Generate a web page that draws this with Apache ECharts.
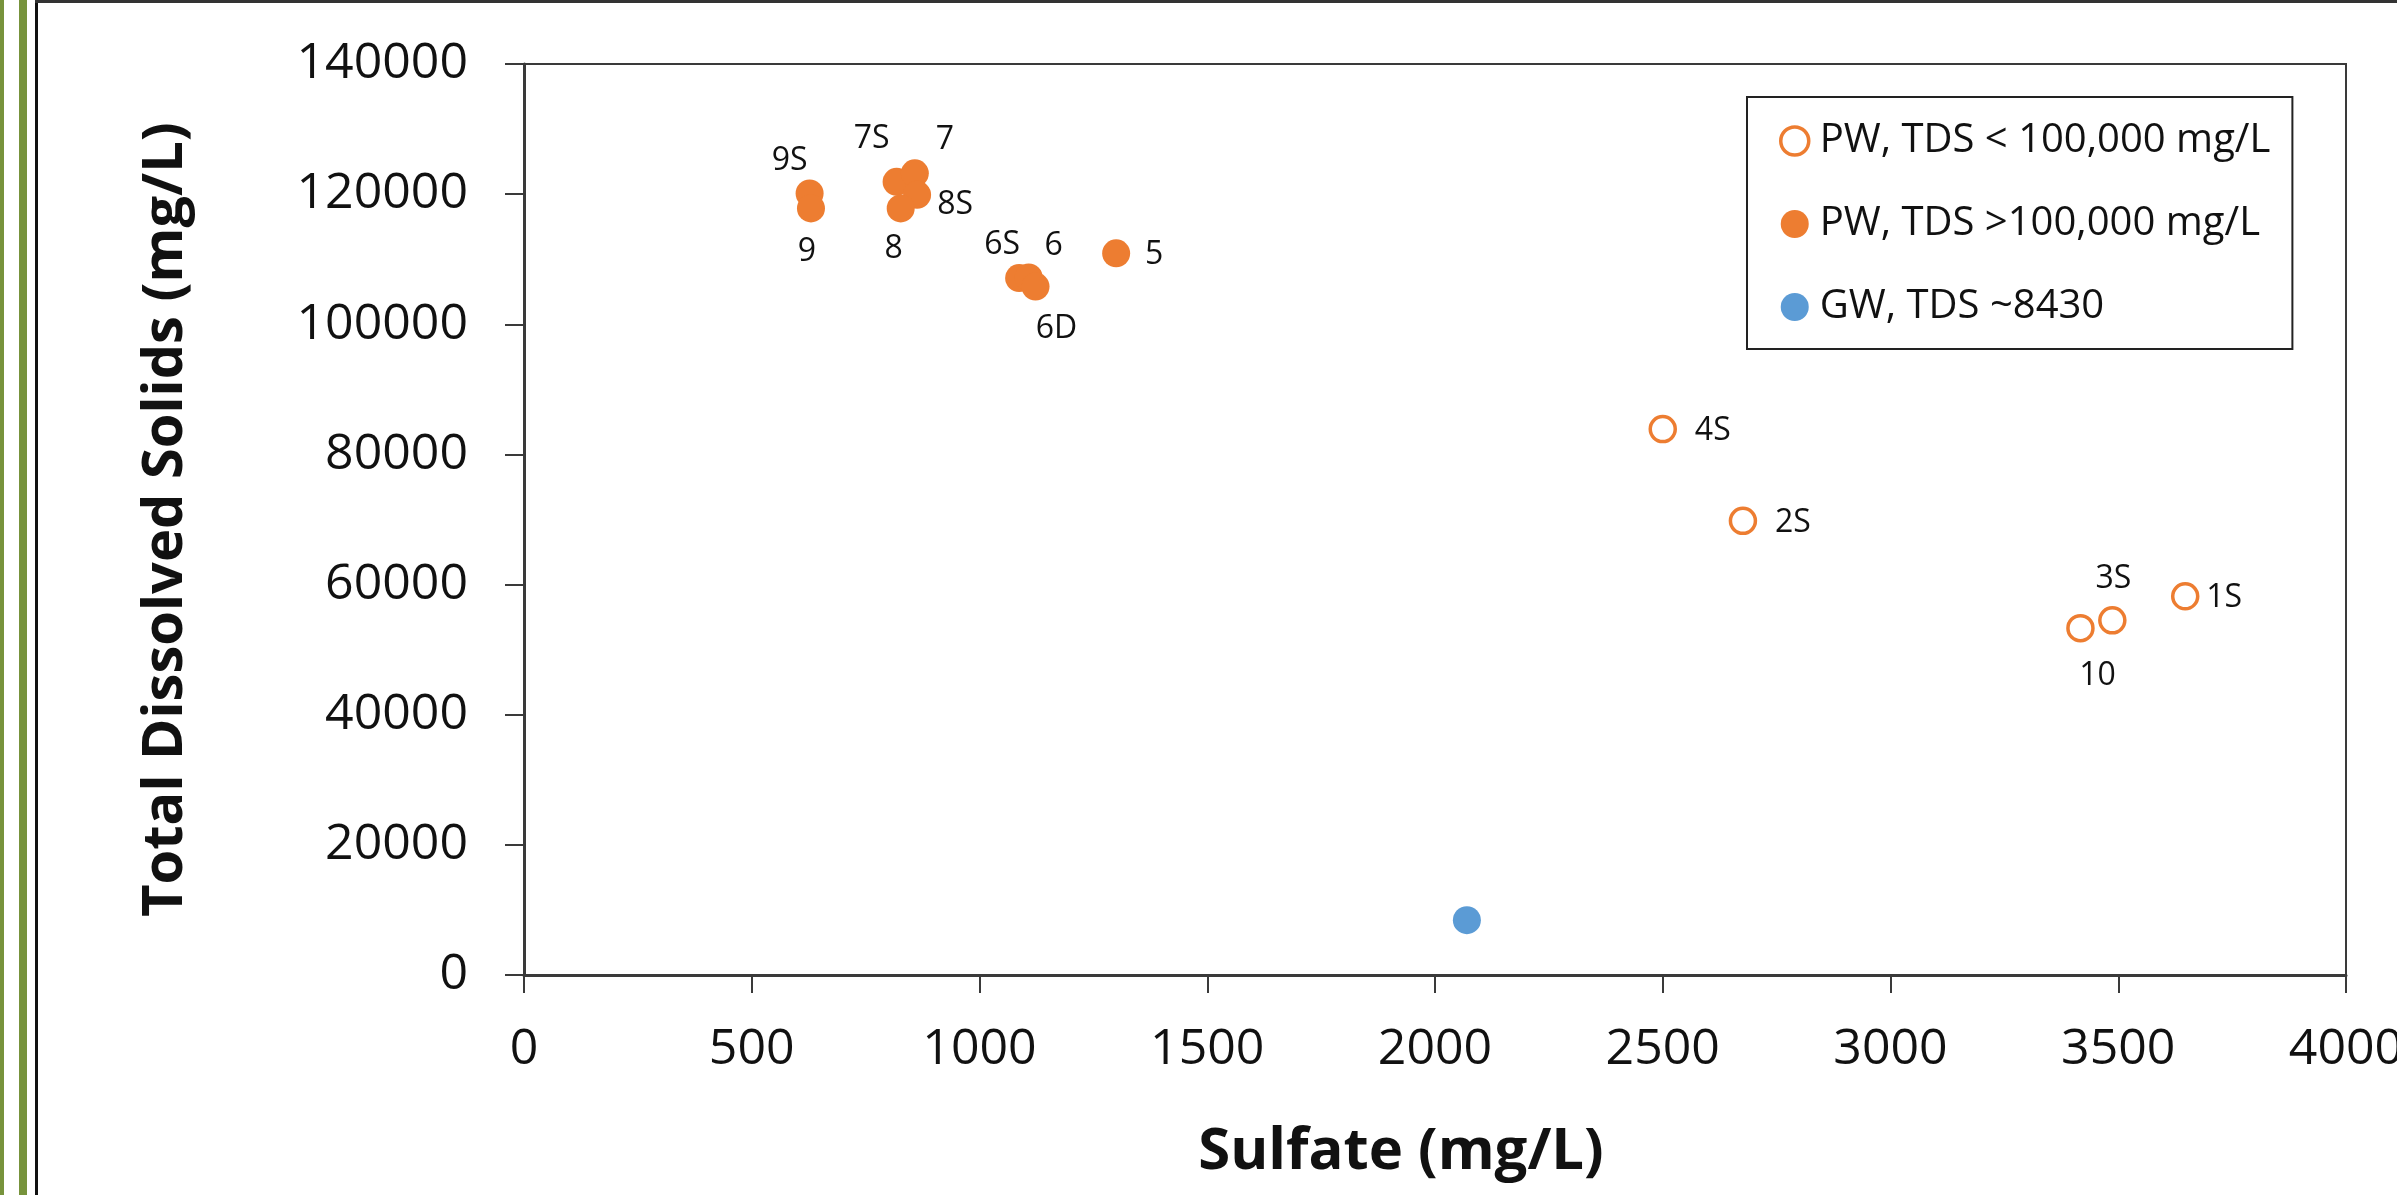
<!DOCTYPE html>
<html>
<head>
<meta charset="utf-8">
<script src="https://cdn.jsdelivr.net/npm/echarts@6/dist/echarts.min.js"></script>
<style>
  html, body { margin: 0; padding: 0; background: #fff; }
  #wrap { position: relative; width: 2397px; height: 1195px; overflow: hidden; }
  #chart { position: absolute; left: 0; top: 0; width: 2397px; height: 1195px; }
  .deco { position: absolute; z-index: 5; }
</style>
</head>
<body>
<div id="wrap">
  <div id="chart"></div>
  <!-- page frame: green double rule + thin black frame -->
  <div class="deco" style="left:0;top:0;width:4px;height:1195px;background:#77933c;"></div>
  <div class="deco" style="left:19px;top:0;width:8px;height:1195px;background:#77933c;"></div>
  <div class="deco" style="left:35px;top:0;width:3px;height:1195px;background:#111;"></div>
  <div class="deco" style="left:35px;top:0;width:2362px;height:3px;background:#333;"></div>
</div>
<script>
// ─── data ───

const xTicks = [0, 500, 1000, 1500, 2000, 2500, 3000, 3500, 4000];
const yTicks = [0, 20000, 40000, 60000, 80000, 100000, 120000, 140000];

// PW, TDS < 100,000 mg/L (hollow)
const lowNames   = ['4S', '2S', '3S', '10', '1S'];
const lowSulfate = [2500, 2676, 3487, 3417, 3647];
const lowTds     = [83900, 69800, 54500, 53300, 58200];

// PW, TDS > 100,000 mg/L (filled)
const highNames   = ['9S', '9', '7S', '7', '8S', '8', '6S', '6', '6D', '5'];
const highSulfate = [627, 630, 818, 858, 863, 827, 1087, 1108, 1123, 1300];
const highTds     = [120100, 117800, 121900, 123200, 119900, 117800, 107100, 107200, 105800, 110900];

// GW
const gwNames   = [''];
const gwSulfate = [2070];
const gwTds     = [8430];

const seriesNames = ['PW, TDS < 100,000 mg/L', 'PW, TDS >100,000 mg/L', 'GW, TDS ~8430'];

// ─── label placement (px offset from marker centre) ───

const LABEL_OFFSET = {
  '9S': [-20, -33], '9': [-4, 43], '7S': [-25, -43], '7': [30, -33], '8S': [38, 10],
  '8': [-7, 40], '6S': [-17, -33], '6': [25, -32], '6D': [21, 42], '5': [38, 2],
  '4S': [50, 2], '2S': [50, 2], '3S': [1, -41], '10': [17, 48], '1S': [39, 2],
};

const ORANGE = '#ed7d31';
const BLUE = '#5b9bd5';
const AXIS = '#3a3a3a';
const TEXT = '#111111';
const FONT = "'Open Sans', 'Noto Sans', sans-serif";

function toPoints(names, xs, ys) {
  return xs.map((x, i) => {
    const name = names[i] || '';
    const off = LABEL_OFFSET[name];
    return {
      name,
      value: [x, ys[i]],
      label: off ? { show: true, position: 'inside', offset: off } : { show: false },
    };
  });
}

const labelStyle = {
  formatter: '{b}',
  color: TEXT,
  fontFamily: FONT,
  fontSize: 32,
};

const plain = (v) => String(v);

const chart = echarts.init(document.getElementById('chart'), null, { renderer: 'canvas' });

chart.setOption({
  backgroundColor: '#ffffff',
  animation: false,
  textStyle: { fontFamily: FONT, color: TEXT },
  grid: {
    left: 524, right: 51, top: 64, bottom: 220,
    outerBoundsMode: 'none',
    containLabel: false,
    show: true, borderColor: AXIS, borderWidth: 2, backgroundColor: 'transparent',
  },
  legend: {
    orient: 'vertical',
    left: 1747, top: 97,
    padding: [24, 22, 22, 32],
    itemGap: 43,
    itemWidth: 28, itemHeight: 28,
    borderColor: '#222', borderWidth: 2,
    backgroundColor: '#fff',
    itemStyle: { borderWidth: 'inherit' },
    textStyle: { fontFamily: FONT, fontSize: 40, color: TEXT, padding: [0, 0, 0, 6] },
    data: seriesNames.map((n) => ({ name: n, icon: 'circle' })),
  },
  xAxis: {
    type: 'value',
    min: xTicks[0], max: xTicks[xTicks.length - 1], interval: 500,
    name: 'Sulfate (mg/L)',
    nameLocation: 'middle',
    nameGap: 148,
    nameTextStyle: { fontFamily: FONT, fontSize: 58, fontWeight: 'bold', color: TEXT, padding: [0, 68, 0, 0] },
    axisLine: { show: true, onZero: false, lineStyle: { color: AXIS, width: 3 } },
    axisTick: { show: true, inside: false, length: 18, lineStyle: { color: AXIS, width: 2 } },
    axisLabel: { fontFamily: FONT, fontSize: 50, color: TEXT, margin: 50, formatter: plain },
    splitLine: { show: false },
  },
  yAxis: {
    type: 'value',
    min: yTicks[0], max: yTicks[yTicks.length - 1], interval: 20000,
    name: 'Total Dissolved Solids (mg/L)',
    nameLocation: 'middle',
    nameGap: 330,
    nameTextStyle: { fontFamily: FONT, fontSize: 56, fontWeight: 'bold', color: TEXT },
    axisLine: { show: true, onZero: false, lineStyle: { color: AXIS, width: 3 } },
    axisTick: { show: true, inside: false, length: 19, lineStyle: { color: AXIS, width: 2 } },
    axisLabel: { fontFamily: FONT, fontSize: 50, color: TEXT, margin: 56, formatter: plain },
    splitLine: { show: false },
  },
  series: [
    {
      name: seriesNames[0],
      type: 'scatter',
      symbol: 'circle',
      symbolSize: 25,
      itemStyle: { color: '#ffffff', borderColor: ORANGE, borderWidth: 3.5, opacity: 1 },
      label: labelStyle,
      data: toPoints(lowNames, lowSulfate, lowTds),
      z: 3,
    },
    {
      name: seriesNames[1],
      type: 'scatter',
      symbol: 'circle',
      symbolSize: 28,
      itemStyle: { color: ORANGE, opacity: 1 },
      label: labelStyle,
      data: toPoints(highNames, highSulfate, highTds),
      z: 3,
    },
    {
      name: seriesNames[2],
      type: 'scatter',
      symbol: 'circle',
      symbolSize: 28,
      itemStyle: { color: BLUE, opacity: 1 },
      label: { show: false },
      data: toPoints(gwNames, gwSulfate, gwTds),
      z: 3,
    },
  ],
});
</script>
</body>
</html>
